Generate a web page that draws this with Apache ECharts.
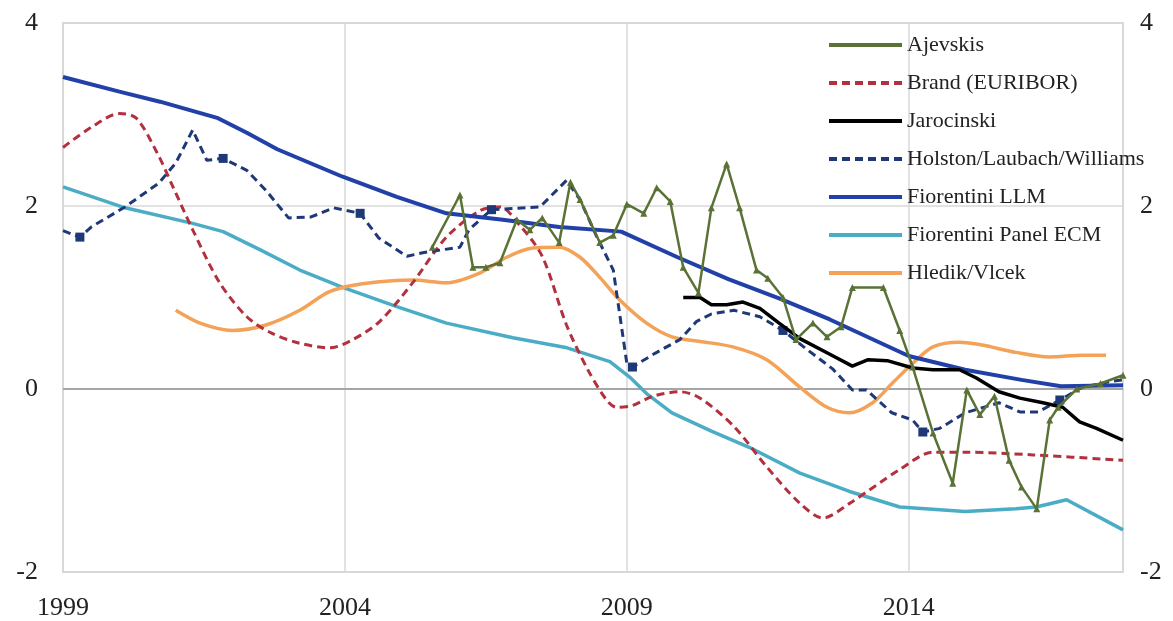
<!DOCTYPE html>
<html>
<head>
<meta charset="utf-8">
<title>Natural rate estimates</title>
<script src="https://cdn.jsdelivr.net/npm/echarts@6/dist/echarts.min.js"></script>
<style>
  html, body { margin: 0; padding: 0; background: #fff; }
  #chart { width: 1173px; height: 621px; }
</style>
</head>
<body>
<div id="chart"></div>
<script>
// Estimates of the natural real interest rate, percent, by year
const BASE_YEAR = 1999;
const xTickYears = [1999, 2004, 2009, 2014];
const yTicks = [-2, 0, 2, 4];

const seriesNames = [
  'Ajevskis',
  'Brand (EURIBOR)',
  'Jarocinski',
  'Holston/Laubach/Williams',
  'Fiorentini LLM',
  'Fiorentini Panel ECM',
  'Hledik/Vlcek'
];

const ajevskis = [
  [2005.55, 1.55], [2006.04, 2.12], [2006.27, 1.33], [2006.5, 1.33], [2006.75, 1.38],
  [2007.05, 1.85], [2007.28, 1.74], [2007.5, 1.87], [2007.8, 1.6], [2008.0, 2.26],
  [2008.17, 2.07], [2008.52, 1.6], [2008.76, 1.68], [2009.0, 2.02], [2009.3, 1.92],
  [2009.53, 2.2], [2009.77, 2.05], [2010.0, 1.33], [2010.27, 1.05], [2010.5, 1.98],
  [2010.77, 2.46], [2011.0, 1.98], [2011.3, 1.3], [2011.5, 1.21], [2011.77, 1.0],
  [2012.0, 0.54], [2012.3, 0.72], [2012.55, 0.57], [2012.8, 0.68], [2013.0, 1.11],
  [2013.55, 1.11], [2013.84, 0.64], [2014.07, 0.24], [2014.43, -0.48], [2014.78, -1.03],
  [2015.03, -0.01], [2015.26, -0.28], [2015.52, -0.08], [2015.78, -0.78], [2016.0, -1.07],
  [2016.27, -1.31], [2016.5, -0.34], [2016.65, -0.2], [2016.98, 0.0], [2017.4, 0.06],
  [2017.8, 0.15]
];

const brand = [
  [1999.0, 2.64], [1999.5, 2.86], [2000.0, 3.01], [2000.3, 2.96], [2000.67, 2.58],
  [2000.95, 2.21], [2001.3, 1.74], [2001.78, 1.16], [2002.26, 0.79], [2002.7, 0.61],
  [2003.2, 0.5], [2003.73, 0.45], [2004.14, 0.54], [2004.62, 0.74], [2005.2, 1.16],
  [2005.8, 1.66], [2006.4, 1.95], [2006.75, 1.99], [2007.1, 1.79], [2007.5, 1.45],
  [2007.93, 0.7], [2008.3, 0.22], [2008.64, -0.12], [2008.82, -0.2], [2009.1, -0.18],
  [2009.46, -0.08], [2009.94, -0.03], [2010.3, -0.1], [2010.9, -0.41], [2011.48, -0.85],
  [2012.07, -1.25], [2012.48, -1.41], [2012.95, -1.25], [2013.84, -0.88], [2014.43, -0.69],
  [2015.0, -0.69], [2016.2, -0.72], [2017.8, -0.78]
];

const jarocinski = [
  [2010.0, 1.0], [2010.3, 1.0], [2010.5, 0.92], [2010.77, 0.92], [2011.06, 0.95],
  [2011.36, 0.88], [2011.7, 0.72], [2012.07, 0.55], [2012.6, 0.38], [2013.0, 0.25],
  [2013.28, 0.32], [2013.62, 0.31], [2014.07, 0.23], [2014.43, 0.21], [2014.9, 0.21],
  [2015.2, 0.12], [2015.6, -0.03], [2015.97, -0.1], [2016.38, -0.15], [2016.73, -0.2],
  [2017.03, -0.36], [2017.33, -0.43], [2017.8, -0.56]
];

const holstonLaubachWilliams = [
  [1999.0, 1.73], [1999.3, 1.66], [1999.5, 1.77], [2000.1, 1.99], [2000.7, 2.25],
  [2001.0, 2.47], [2001.3, 2.83], [2001.55, 2.5], [2001.84, 2.52], [2002.26, 2.39],
  [2002.6, 2.17], [2003.0, 1.87], [2003.4, 1.88], [2003.8, 1.98], [2004.27, 1.92],
  [2004.6, 1.65], [2005.1, 1.45], [2005.38, 1.49], [2006.04, 1.55], [2006.2, 1.74],
  [2006.6, 1.96], [2007.46, 1.99], [2007.93, 2.28], [2008.17, 2.07], [2008.47, 1.66],
  [2008.76, 1.3], [2009.0, 0.28], [2009.1, 0.24], [2009.5, 0.39], [2009.94, 0.54],
  [2010.24, 0.74], [2010.5, 0.82], [2010.9, 0.86], [2011.36, 0.79], [2011.77, 0.64],
  [2012.2, 0.43], [2012.65, 0.22], [2013.0, -0.01], [2013.25, -0.01], [2013.7, -0.26],
  [2014.07, -0.34], [2014.25, -0.47], [2014.55, -0.43], [2015.0, -0.26], [2015.6, -0.15],
  [2015.97, -0.25], [2016.3, -0.25], [2016.68, -0.12], [2017.08, 0.02], [2017.56, 0.08],
  [2017.8, 0.1]
];

const holstonMarkers = [
  [1999.3, 1.66], [2001.84, 2.52], [2004.27, 1.92], [2006.6, 1.96],
  [2009.1, 0.24], [2011.77, 0.64], [2014.25, -0.47], [2016.68, -0.12]
];

const fiorentiniLLM = [
  [1999.0, 3.41], [2000.0, 3.25], [2000.72, 3.14], [2001.75, 2.96], [2002.26, 2.8],
  [2002.8, 2.62], [2003.38, 2.47], [2003.96, 2.32], [2004.92, 2.1], [2005.8, 1.92],
  [2006.8, 1.85], [2007.8, 1.77], [2008.9, 1.72], [2009.9, 1.44], [2010.8, 1.2],
  [2011.7, 0.99], [2012.6, 0.76], [2013.3, 0.56], [2014.0, 0.36], [2015.0, 0.21],
  [2016.0, 0.1], [2016.7, 0.03], [2017.8, 0.04]
];

const fiorentiniPanelECM = [
  [1999.0, 2.21], [2000.1, 1.98], [2001.3, 1.81], [2001.84, 1.72], [2002.5, 1.52],
  [2003.2, 1.3], [2003.96, 1.11], [2004.92, 0.9], [2005.8, 0.72], [2006.98, 0.56],
  [2007.94, 0.45], [2008.7, 0.3], [2009.05, 0.13], [2009.35, -0.05], [2009.8, -0.26],
  [2010.5, -0.46], [2011.18, -0.64], [2012.07, -0.92], [2012.95, -1.12], [2013.84, -1.29],
  [2015.0, -1.34], [2015.9, -1.31], [2016.26, -1.29], [2016.8, -1.21], [2017.8, -1.54]
];

const hledikVlcek = [
  [2001.0, 0.86], [2001.43, 0.72], [2002.0, 0.64], [2002.6, 0.7], [2003.2, 0.86],
  [2003.68, 1.05], [2004.03, 1.12], [2004.57, 1.17], [2005.2, 1.19], [2005.8, 1.16],
  [2006.4, 1.27], [2006.87, 1.44], [2007.33, 1.54], [2007.8, 1.55], [2008.17, 1.44],
  [2008.52, 1.22], [2008.88, 0.97], [2009.35, 0.72], [2009.8, 0.57], [2010.3, 0.52],
  [2010.88, 0.46], [2011.48, 0.32], [2012.07, 0.02], [2012.55, -0.2], [2012.95, -0.26],
  [2013.36, -0.15], [2013.72, 0.07], [2014.07, 0.28], [2014.43, 0.46], [2014.9, 0.51],
  [2015.3, 0.48], [2015.9, 0.4], [2016.5, 0.35], [2017.08, 0.37], [2017.5, 0.37]
];

const X_END = 2017.8;

// Shift calendar years onto an axis that starts at zero
const toAxis = pts => pts.map(p => [p[0] - BASE_YEAR, p[1]]);

const FONT = '"Liberation Serif", "DejaVu Serif", serif';
const colors = {
  ajevskis: '#5A7236',
  brand: '#B3303F',
  jarocinski: '#000000',
  hlw: '#1F3878',
  llm: '#2140A8',
  ecm: '#4BADC5',
  hv: '#F3A257'
};

const chart = echarts.init(document.getElementById('chart'), null, { renderer: 'canvas' });

const xTickOffsets = xTickYears.map(y => y - BASE_YEAR);

const yAxisCommon = {
  type: 'value',
  min: yTicks[0],
  max: yTicks[yTicks.length - 1],
  interval: 2,
  axisLine: { show: false },
  axisTick: { show: false },
  splitLine: { show: true, lineStyle: { color: '#D9D9D9', width: 1.5 } }
};

const option = {
  animation: false,
  backgroundColor: '#ffffff',
  grid: {
    left: 63, right: 50, top: 23, bottom: 49,
    show: true, borderColor: '#D6D6D6', borderWidth: 2,
    containLabel: false
  },
  xAxis: {
    type: 'value',
    min: 0,
    max: X_END - BASE_YEAR,
    interval: 5,
    axisLine: { show: false },
    axisTick: { show: false },
    splitLine: { show: true, lineStyle: { color: '#D9D9D9', width: 1.5 } },
    axisLabel: {
      margin: 23,
      fontFamily: FONT, fontSize: 26, color: '#222',
      formatter: v => (xTickOffsets.indexOf(Math.round(v * 100) / 100) >= 0 ? String(v + BASE_YEAR) : '')
    }
  },
  yAxis: [
    Object.assign({}, yAxisCommon, {
      position: 'left',
      axisLabel: { margin: 25, fontFamily: FONT, fontSize: 26, color: '#222' }
    }),
    Object.assign({}, yAxisCommon, {
      position: 'right',
      splitLine: { show: false },
      axisLabel: { margin: 17, fontFamily: FONT, fontSize: 26, color: '#222' }
    })
  ],
  legend: {
    orient: 'vertical',
    left: 822,
    top: 28,
    itemWidth: 73,
    itemHeight: 14,
    itemGap: 14,
    selectedMode: false,
    data: seriesNames,
    lineStyle: { width: 4 },
    itemStyle: { opacity: 0 },
    textStyle: { fontFamily: FONT, fontSize: 22, color: '#222', lineHeight: 24 }
  },
  series: [
    {
      name: 'Fiorentini Panel ECM', type: 'line', symbol: 'none',
      data: toAxis(fiorentiniPanelECM),
      lineStyle: { color: colors.ecm, width: 3.5 }, itemStyle: { color: colors.ecm },
      z: 2,
      markLine: {
        silent: true, symbol: 'none', label: { show: false },
        lineStyle: { color: '#A6A6A6', width: 2, type: 'solid' },
        data: [{ yAxis: 0 }], z: 1
      }
    },
    {
      name: 'Hledik/Vlcek', type: 'line', symbol: 'none', smooth: 0.3,
      data: toAxis(hledikVlcek),
      lineStyle: { color: colors.hv, width: 3.5 }, itemStyle: { color: colors.hv }, z: 3
    },
    {
      name: 'Brand (EURIBOR)', type: 'line', symbol: 'none', smooth: 0.3,
      data: toAxis(brand),
      lineStyle: { color: colors.brand, width: 3, type: [8, 5] }, itemStyle: { color: colors.brand }, z: 4
    },
    {
      name: 'Holston/Laubach/Williams', type: 'line', symbol: 'none',
      data: toAxis(holstonLaubachWilliams),
      lineStyle: { color: colors.hlw, width: 3, type: [8, 5] }, itemStyle: { color: colors.hlw }, z: 5
    },
    {
      name: 'Holston/Laubach/Williams', type: 'scatter', symbol: 'rect', symbolSize: 9,
      data: toAxis(holstonMarkers),
      itemStyle: { color: colors.hlw, opacity: 1 }, z: 5
    },
    {
      name: 'Fiorentini LLM', type: 'line', symbol: 'none',
      data: toAxis(fiorentiniLLM),
      lineStyle: { color: colors.llm, width: 4 }, itemStyle: { color: colors.llm }, z: 6
    },
    {
      name: 'Jarocinski', type: 'line', symbol: 'none',
      data: toAxis(jarocinski),
      lineStyle: { color: colors.jarocinski, width: 3.5 }, itemStyle: { color: colors.jarocinski }, z: 7
    },
    {
      name: 'Ajevskis', type: 'line', symbol: 'none',
      data: toAxis(ajevskis),
      lineStyle: { color: colors.ajevskis, width: 2.5 }, itemStyle: { color: colors.ajevskis }, z: 8
    },
    {
      name: 'Ajevskis', type: 'scatter', symbol: 'triangle', symbolSize: 7,
      data: toAxis(ajevskis),
      itemStyle: { color: colors.ajevskis, opacity: 1 }, z: 8
    }
  ]
};

chart.setOption(option);
</script>
</body>
</html>
